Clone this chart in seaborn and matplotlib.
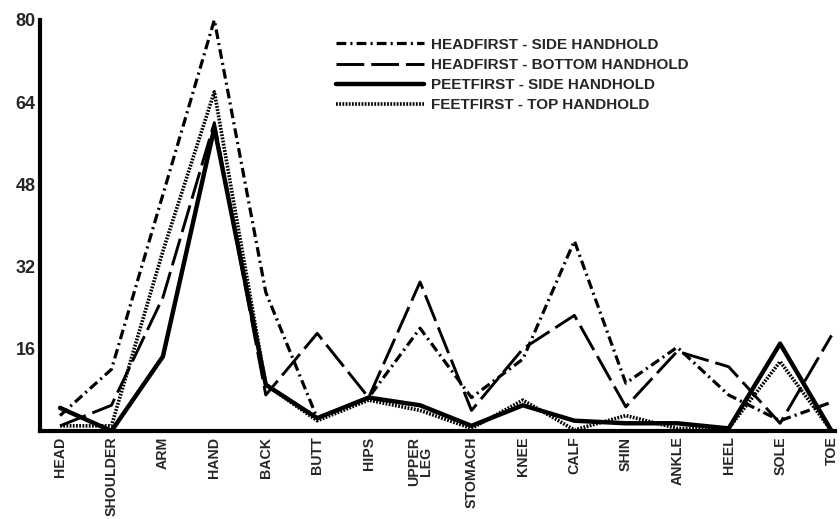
import numpy as np
import pandas as pd

import matplotlib
matplotlib.use('Agg')
import matplotlib.pyplot as plt
import seaborn as sns

# Body regions along the x axis
regions = ['HEAD', 'SHOULDER', 'ARM', 'HAND', 'BACK', 'BUTT', 'HIPS', 'UPPER\nLEG',
           'STOMACH', 'KNEE', 'CALF', 'SHIN', 'ANKLE', 'HEEL', 'SOLE', 'TOE']

# Values
headfirst_side = [3, 12, 46, 80, 27, 2.5, 6.5, 20, 6.5, 14, 37, 9.3, 16.3, 7, 2, 5.6]
headfirst_bottom = [1, 5, 26, 60, 7, 19, 6.5, 29, 4, 16, 22.5, 4.7, 15.5, 12.5, 1.5, 18.6]
feetfirst_side = [4.5, 0, 14.5, 59, 9, 2.5, 6.5, 5, 1, 5, 2, 1.5, 1.5, 0.5, 17, 0]
feetfirst_top = [1, 1, 35, 66, 9, 2, 6, 4, 0.5, 6, 0.2, 3, 0.5, 0.5, 13.5, 0]

labels = ['HEADFIRST - SIDE HANDHOLD', 'HEADFIRST - BOTTOM HANDHOLD',
          'PEETFIRST - SIDE HANDHOLD', 'FEETFIRST - TOP HANDHOLD']
y_ticks = [16, 32, 48, 64, 80]


def main():
    sns.set_style('white')
    plt.rcParams['font.family'] = ['Liberation Sans', 'DejaVu Sans']
    plt.rcParams['font.weight'] = 'bold'
    plt.rcParams['lines.scale_dashes'] = False

    fig = plt.figure(figsize=(8.4, 5.19), dpi=100)
    ax = fig.add_axes([0.0476, 0.1696, 0.946, 0.792])

    pos = np.arange(len(regions))
    series = [headfirst_side, headfirst_bottom, feetfirst_side, feetfirst_top]

    # line style per series: (linestyle, linewidth)
    styles = [
        ((0, (7, 3, 1.5, 3)), 2.3),
        ((0, (20, 5)), 2.1),
        ('-', 3.2),
        ((0, (1.3, 1.0)), 2.6),
    ]

    for values, label, (ls, lw) in zip(series, labels, styles):
        sns.lineplot(x=pos, y=values, ax=ax, color='black', linewidth=lw,
                     linestyle=ls, label=label, sort=False)

    ax.set_xlim(-0.39, 15.06)
    ax.set_ylim(0, 80)

    ax.set_xticks(pos)
    ax.set_xticklabels(regions, rotation=90, fontsize=10.2, fontweight='bold',
                       va='top', ha='center', linespacing=0.85)
    ax.set_yticks([0] + y_ticks)
    ax.set_yticklabels([''] + [str(t) for t in y_ticks], fontsize=13, fontweight='bold')

    ax.tick_params(axis='both', direction='in', length=7, width=2.2, color='black')
    ax.tick_params(axis='x', pad=4)
    ax.tick_params(axis='y', pad=3)

    for side in ['top', 'right']:
        ax.spines[side].set_visible(False)
    for side in ['left', 'bottom']:
        ax.spines[side].set_linewidth(3)
        ax.spines[side].set_color('black')

    ax.set_xlabel('')
    ax.set_ylabel('')

    leg = ax.legend(loc='upper left', bbox_to_anchor=(0.355, 0.99), frameon=False,
                    handlelength=5.8, handletextpad=0.45, labelspacing=0.4,
                    prop={'weight': 'bold', 'size': 11})
    for line in leg.get_lines():
        line.set_color('black')

    fig.savefig('out.png', dpi=100)
    plt.close(fig)


if __name__ == '__main__':
    main()
